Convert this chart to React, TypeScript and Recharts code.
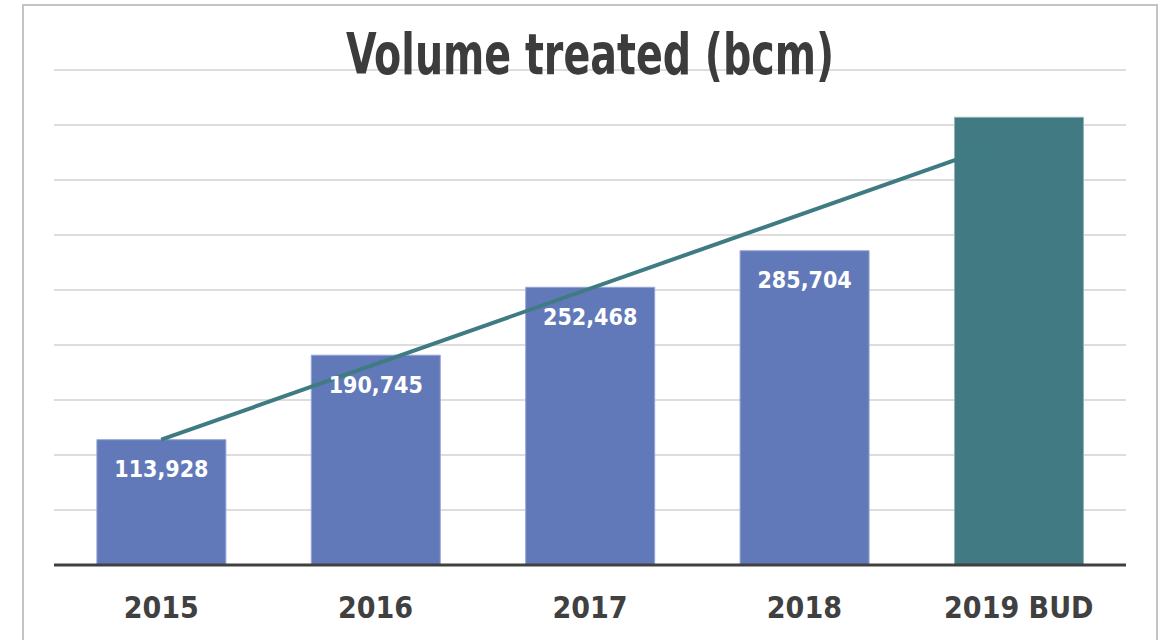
import React from "react";
import { ComposedChart, Bar, Line, XAxis, YAxis, CartesianGrid, LabelList } from "recharts";

const categories = ["2015", "2016", "2017", "2018", "2019 BUD"];
const actualValues: (number | null)[] = [113928, 190745, 252468, 285704, null];
const budgetValues: (number | null)[] = [null, null, null, null, 407000];
const trendValues: (number | null)[] = [113928, null, null, null, 388600];
const yTicks = [0, 50000, 100000, 150000, 200000, 250000, 300000, 350000, 400000, 450000];

const data = categories.map((c, i) => ({
  name: c,
  actual: actualValues[i],
  budget: budgetValues[i],
  trend: trendValues[i],
}));

const FONT = "'DejaVu Sans Condensed', 'DejaVu Sans', sans-serif";

const fmt = (v: any) => (typeof v === "number" ? v.toLocaleString("en-US") : "");

export default function App() {
  return (
    <div style={{ position: "absolute", left: 0, top: 0, width: 1161, height: 640, overflow: "hidden", background: "#fff" }}>
      <div
        style={{
          position: "absolute",
          left: 22,
          top: 4,
          width: 1136,
          height: 700,
          border: "2px solid #c4c4c4",
          boxSizing: "border-box",
        }}
      />
      <div style={{ position: "absolute", left: 0, top: 0 }}>
        <ComposedChart
          width={1161}
          height={640}
          data={data}
          margin={{ top: 70, right: 35, left: 54, bottom: 15 }}
          barCategoryGap="20%"
        >
          <XAxis
            dataKey="name"
            axisLine={{ stroke: "#404040", strokeWidth: 3 }}
            tickLine={false}
            height={60}
            tick={{ fill: "#404040", fontSize: 30, fontWeight: 700, fontFamily: FONT }}
            dy={24}
          />
          <YAxis hide domain={[0, 450000]} ticks={yTicks} />
          <Bar dataKey="actual" stackId="a" fill="#6279b9" stroke="#95a5d6" strokeWidth={1} isAnimationActive={false}>
            <LabelList
              dataKey="actual"
              position="insideTop"
              offset={21}
              formatter={fmt}
              fill="#ffffff"
              style={{ fontSize: 23, fontWeight: 700, fontFamily: FONT }}
            />
          </Bar>
          <Line
            dataKey="trend"
            stroke="#3f7b82"
            strokeWidth={4}
            dot={false}
            activeDot={false}
            connectNulls
            isAnimationActive={false}
          />
          <Bar dataKey="budget" stackId="a" fill="#417a83" stroke="#8fb3b8" strokeWidth={1} isAnimationActive={false} />
          <CartesianGrid vertical={false} stroke="#000" strokeOpacity={0.18} strokeWidth={1.5} />
        </ComposedChart>
      </div>
      <div
        style={{
          position: "absolute",
          left: 0,
          width: 1180,
          top: 26,
          textAlign: "center",
          fontFamily: FONT,
          fontWeight: 700,
          fontSize: 44,
          color: "#3c3c3c",
          lineHeight: "56px",
          transform: "scaleY(1.3)",
          transformOrigin: "50% 50%",
        }}
      >
        Volume treated (bcm)
      </div>
    </div>
  );
}
